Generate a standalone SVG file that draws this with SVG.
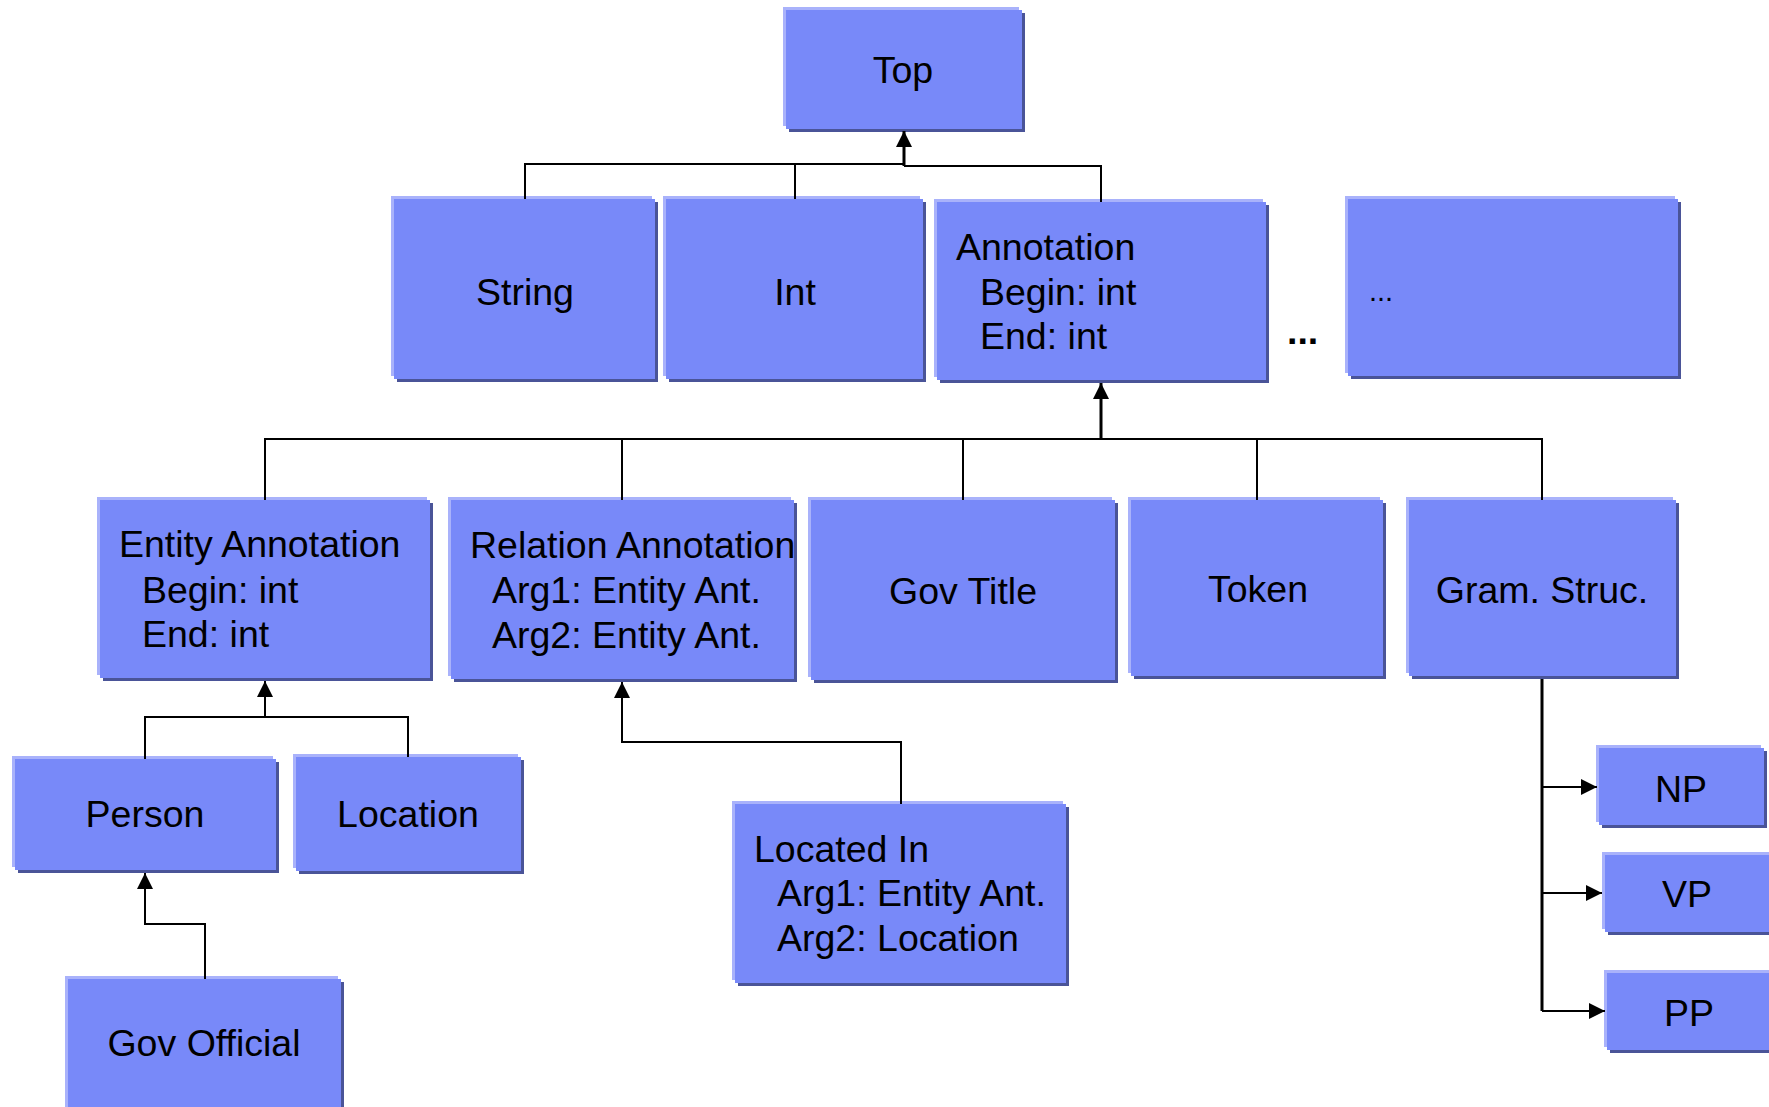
<svg xmlns="http://www.w3.org/2000/svg" width="1769" height="1107" viewBox="0 0 1769 1107">
<defs>
<marker id="arr" markerUnits="userSpaceOnUse" markerWidth="16" markerHeight="16" refX="16" refY="8" orient="auto">
<path d="M0,0 L16,8 L0,16 z" fill="#000"/>
</marker>
</defs>
<style>
.lt{fill:#a9b2fb}
.sh{fill:#4a5498}
.mn{fill:#7889f9}
text{font-family:"Liberation Sans",Arial,sans-serif;font-size:37.5px;fill:#000}
.c{text-anchor:middle}
.ln{fill:none;stroke:#000;stroke-width:2}
.tk{stroke-width:3}
</style>
<rect width="1769" height="1107" fill="#fff"/>

<g id="node-top">
<rect class="sh" x="789" y="13" width="236" height="119"/><rect class="lt" x="783" y="7" width="236" height="119"/><rect class="mn" x="786" y="10" width="236" height="119"/>
<text class="c" x="903" y="83">Top</text>
</g>
<g id="node-string">
<rect class="sh" x="397" y="202" width="261" height="180"/><rect class="lt" x="391" y="196" width="261" height="180"/><rect class="mn" x="394" y="199" width="261" height="180"/>
<text class="c" x="525" y="305">String</text>
</g>
<g id="node-int">
<rect class="sh" x="669" y="202" width="257" height="180"/><rect class="lt" x="663" y="196" width="257" height="180"/><rect class="mn" x="666" y="199" width="257" height="180"/>
<text class="c" x="795" y="305">Int</text>
</g>
<g id="node-annotation">
<rect class="sh" x="940" y="205" width="329" height="178"/><rect class="lt" x="934" y="199" width="329" height="178"/><rect class="mn" x="937" y="202" width="329" height="178"/>
<text x="956" y="260">Annotation</text>
<text x="980" y="305">Begin: int</text>
<text x="980" y="349">End: int</text>
</g>
<g id="gap-dots">
<text x="1287" y="344" style="font-weight:bold">...</text>
</g>
<g id="node-more">
<rect class="sh" x="1351" y="202" width="330" height="177"/><rect class="lt" x="1345" y="196" width="330" height="177"/><rect class="mn" x="1348" y="199" width="330" height="177"/>
<text x="1369" y="301" style="font-size:29px">...</text>
</g>
<g id="node-entity">
<rect class="sh" x="103" y="503" width="330" height="178"/><rect class="lt" x="97" y="497" width="330" height="178"/><rect class="mn" x="100" y="500" width="330" height="178"/>
<text x="119" y="557">Entity Annotation</text>
<text x="142" y="603">Begin: int</text>
<text x="142" y="647">End: int</text>
</g>
<g id="node-relation">
<rect class="sh" x="454" y="503" width="343" height="179"/><rect class="lt" x="448" y="497" width="343" height="179"/><rect class="mn" x="451" y="500" width="343" height="179"/>
<text x="470" y="558">Relation Annotation</text>
<text x="492" y="603">Arg1: Entity Ant.</text>
<text x="492" y="648">Arg2: Entity Ant.</text>
</g>
<g id="node-govtitle">
<rect class="sh" x="814" y="503" width="304" height="180"/><rect class="lt" x="808" y="497" width="304" height="180"/><rect class="mn" x="811" y="500" width="304" height="180"/>
<text class="c" x="963" y="604">Gov Title</text>
</g>
<g id="node-token">
<rect class="sh" x="1134" y="503" width="252" height="176"/><rect class="lt" x="1128" y="497" width="252" height="176"/><rect class="mn" x="1131" y="500" width="252" height="176"/>
<text class="c" x="1258" y="602">Token</text>
</g>
<g id="node-gram">
<rect class="sh" x="1412" y="503" width="267" height="176"/><rect class="lt" x="1406" y="497" width="267" height="176"/><rect class="mn" x="1409" y="500" width="267" height="176"/>
<text class="c" x="1542" y="603">Gram. Struc.</text>
</g>
<g id="node-person">
<rect class="sh" x="18" y="762" width="261" height="111"/><rect class="lt" x="12" y="756" width="261" height="111"/><rect class="mn" x="15" y="759" width="261" height="111"/>
<text class="c" x="145" y="827">Person</text>
</g>
<g id="node-location">
<rect class="sh" x="299" y="760" width="225" height="114"/><rect class="lt" x="293" y="754" width="225" height="114"/><rect class="mn" x="296" y="757" width="225" height="114"/>
<text class="c" x="408" y="827">Location</text>
</g>
<g id="node-govofficial">
<rect class="sh" x="71" y="982" width="273" height="140"/><rect class="lt" x="65" y="976" width="273" height="140"/><rect class="mn" x="68" y="979" width="273" height="140"/>
<text class="c" x="204" y="1056">Gov Official</text>
</g>
<g id="node-locatedin">
<rect class="sh" x="738" y="807" width="331" height="179"/><rect class="lt" x="732" y="801" width="331" height="179"/><rect class="mn" x="735" y="804" width="331" height="179"/>
<text x="754" y="862">Located In</text>
<text x="777" y="906">Arg1: Entity Ant.</text>
<text x="777" y="951">Arg2: Location</text>
</g>
<g id="node-np">
<rect class="sh" x="1602" y="751" width="165" height="77"/><rect class="lt" x="1596" y="745" width="165" height="77"/><rect class="mn" x="1599" y="748" width="165" height="77"/>
<text class="c" x="1681" y="802">NP</text>
</g>
<g id="node-vp">
<rect class="sh" x="1608" y="858" width="175" height="77"/><rect class="lt" x="1602" y="852" width="175" height="77"/><rect class="mn" x="1605" y="855" width="175" height="77"/>
<text class="c" x="1687" y="907">VP</text>
</g>
<g id="node-pp">
<rect class="sh" x="1610" y="976" width="175" height="77"/><rect class="lt" x="1604" y="970" width="175" height="77"/><rect class="mn" x="1607" y="973" width="175" height="77"/>
<text class="c" x="1689" y="1026">PP</text>
</g>

<g id="connectors">
<path class="ln" d="M525,199 V164 H904 M795,164 V199 M904,166 H1101 V202"/>
<path class="ln tk" d="M904,166 V131" marker-end="url(#arr)"/>
<path class="ln" d="M265,500 V439 H1542 V500 M622,439 V500 M963,439 V500 M1257,439 V500"/>
<path class="ln tk" d="M1101,439 V383" marker-end="url(#arr)"/>
<path class="ln" d="M145,759 V717 H408 V757"/>
<path class="ln" d="M265,717 V681" marker-end="url(#arr)"/>
<path class="ln" d="M205,979 V924 H145 V873" marker-end="url(#arr)"/>
<path class="ln" d="M901,804 V742 H622 V682" marker-end="url(#arr)"/>
<path class="ln tk" d="M1542,679 V1011"/>
<path class="ln" d="M1542,787 H1597" marker-end="url(#arr)"/>
<path class="ln" d="M1542,893 H1602" marker-end="url(#arr)"/>
<path class="ln" d="M1542,1011 H1605" marker-end="url(#arr)"/>
</g>
</svg>
